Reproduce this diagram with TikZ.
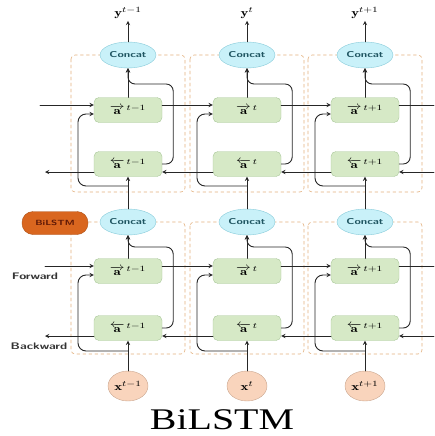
\documentclass[tikz,border=0pt]{standalone}
\usepackage{fontspec}
\usepackage{amsmath}
\usepackage{graphicx}
\usetikzlibrary{shapes.geometric,positioning}
\newfontfamily\capfont{Liberation Serif}
\newcommand{\wide}[1]{\scalebox{1.35}[1]{#1}}
\definecolor{cellfill}{HTML}{D6E9C6}
\definecolor{cellline}{HTML}{A9C79A}
\definecolor{catfill}{HTML}{C9F1F9}
\definecolor{catline}{HTML}{86CAD9}
\definecolor{cattext}{HTML}{1F5561}
\definecolor{inpfill}{HTML}{F9D4BC}
\definecolor{inpline}{HTML}{C9A58E}
\definecolor{tagfill}{HTML}{D9661F}
\definecolor{tagtext}{HTML}{5E1806}
\definecolor{frameline}{HTML}{E2B07E}
\begin{document}
\begin{tikzpicture}[x=1pt,y=-1pt,font=\footnotesize,line join=round,line cap=round,>=stealth,
	cell/.style={draw=cellline,fill=cellfill,rounded corners=5pt,minimum width=68pt,minimum height=25pt,inner sep=0pt,font=\fontsize{11}{12}\selectfont},
	catnode/.style={ellipse,draw=catline,fill=catfill,minimum width=56pt,minimum height=26pt,inner sep=0pt,font=\sffamily\bfseries\fontsize{8.5}{9}\selectfont,text=cattext},
	inpnode/.style={ellipse,draw=inpline,fill=inpfill,minimum width=40pt,minimum height=30pt,inner sep=0pt,font=\fontsize{11}{12}\selectfont},
	tagnode/.style={draw=tagfill!80!black,fill=tagfill,rounded corners=11pt,minimum width=66pt,minimum height=23pt,inner sep=0pt,font=\sffamily\bfseries\fontsize{7.5}{8}\selectfont,text=tagtext},
	frame/.style={draw=frameline,dashed,rounded corners=4pt,line width=0.6pt},
	lbl/.style={inner sep=0pt,font=\sffamily\bfseries\fontsize{9.5}{10}\selectfont,text=black!80},
	link/.style={->,line width=0.9pt,black!85}]
	\useasboundingbox (0,0) rectangle (434,436);
	% dashed cell frames
	\foreach \cx in {128,247,365}{
		\draw[frame] (\cx-57,55) rectangle (\cx+57,192);
		\draw[frame] (\cx-57,222) rectangle (\cx+57,354);
	}
	% columns
	\foreach \i/\cx/\tlab in {1/128/t-1,2/247/t,3/365/t+1}{
		\node[catnode] (c2\i) at (\cx,55) {\wide{Concat}};
		\node[cell] (f2\i) at (\cx,110) {\wide{$\overrightarrow{\mathbf{a}}^{\,\tlab}$}};
		\node[cell] (b2\i) at (\cx,164) {\wide{$\overleftarrow{\mathbf{a}}^{\,\tlab}$}};
		\node[catnode] (c1\i) at (\cx,222) {\wide{Concat}};
		\node[cell] (f1\i) at (\cx,271) {\wide{$\overrightarrow{\mathbf{a}}^{\,\tlab}$}};
		\node[cell] (b1\i) at (\cx,328) {\wide{$\overleftarrow{\mathbf{a}}^{\,\tlab}$}};
		\node[inpnode] (x\i) at (\cx,386) {\wide{$\mathbf{x}^{\tlab}$}};
		\node[inner sep=2pt,font=\fontsize{11}{12}\selectfont] (y\i) at (\cx,13) {\wide{$\mathbf{y}^{\tlab}$}};
		\coordinate (s2\i) at (\cx,186);
		\coordinate (s1\i) at (\cx,351);
		\draw[link] (x\i) -- (b1\i);
		\draw[link] (f1\i) -- (c1\i);
		\draw[link] (c1\i) -- (b2\i);
		\draw[link] (f2\i) -- (c2\i);
		\draw[link] (c2\i) -- (y\i);
		\draw[link,rounded corners=7pt] (b1\i.east) -- ++(11,0) |- (\cx,247) -- (c1\i.south);
		\draw[link,rounded corners=7pt] (b2\i.east) -- ++(11,0) |- (\cx,84) -- (c2\i.south);
		\draw[link,rounded corners=8pt] (s1\i) -- (\cx-50,351) |- ([yshift=-4pt]f1\i.west);
		\draw[link,rounded corners=8pt] (s2\i) -- (\cx-50,186) |- ([yshift=-4pt]f2\i.west);
	}
	\node[tagnode] (tag) at (55,223) {\wide{BiLSTM}};
	\node[lbl] (fwd) at (35,276) {\wide{Forward}};
	\node[lbl] (bwd) at (39,346) {\wide{Backward}};
	\coordinate (fin1) at (45,266);
	\coordinate (fin2) at (40,105);
	\coordinate (bout1) at (45,336);
	\coordinate (bout2) at (45,172);
	\coordinate (fout1) at (434,266);
	\coordinate (fout2) at (434,105);
	\coordinate (bin1) at (434,336);
	\coordinate (bin2) at (434,172);
	% forward chains
	\draw[link] (fin1) -- ([yshift=5pt]f11.west);
	\draw[link] ([yshift=5pt]f11.east) -- ([yshift=5pt]f12.west);
	\draw[link] ([yshift=5pt]f12.east) -- ([yshift=5pt]f13.west);
	\draw[link,-] ([yshift=5pt]f13.east) -- (fout1);
	\draw[link] (fin2) -- ([yshift=5pt]f21.west);
	\draw[link] ([yshift=5pt]f21.east) -- ([yshift=5pt]f22.west);
	\draw[link] ([yshift=5pt]f22.east) -- ([yshift=5pt]f23.west);
	\draw[link,-] ([yshift=5pt]f23.east) -- (fout2);
	% backward chains
	\draw[link] (bin1) -- ([yshift=-8pt]b13.east);
	\draw[link] ([yshift=-8pt]b13.west) -- ([yshift=-8pt]b12.east);
	\draw[link] ([yshift=-8pt]b12.west) -- ([yshift=-8pt]b11.east);
	\draw[link] ([yshift=-8pt]b11.west) -- (bout1);
	\draw[link] (bin2) -- ([yshift=-8pt]b23.east);
	\draw[link] ([yshift=-8pt]b23.west) -- ([yshift=-8pt]b22.east);
	\draw[link] ([yshift=-8pt]b22.west) -- ([yshift=-8pt]b21.east);
	\draw[link] ([yshift=-8pt]b21.west) -- (bout2);
	\node[inner sep=0pt,font=\capfont\fontsize{30}{30}\selectfont] (cap) at (222,420) {\scalebox{1.33}[1]{BiLSTM}};
\end{tikzpicture}
\end{document}
